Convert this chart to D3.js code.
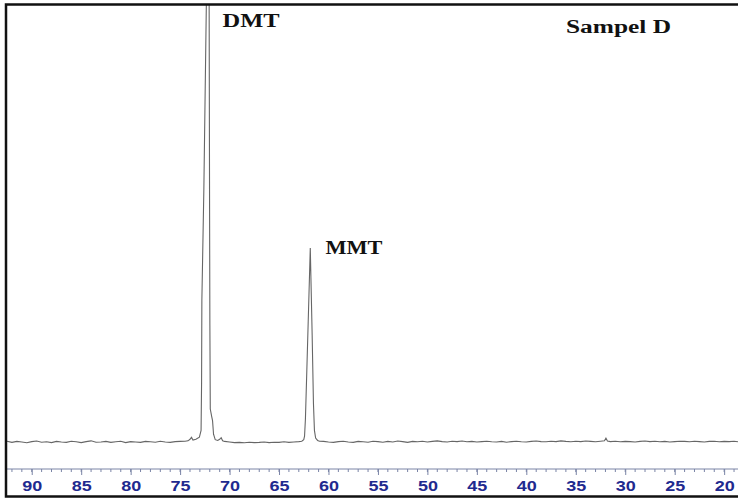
<!DOCTYPE html>
<html>
<head>
<meta charset="utf-8">
<script src="https://d3js.org/d3.v7.min.js"></script>
<style>
  body { margin: 0; background: #fff; }
  svg { display: block; }
</style>
</head>
<body>
<script>
// chemical shift (ppm) of each read point, left part of spectrum
var baseLeftPpm = [92.5, 92.0, 91.5, 91.0, 90.5, 90.0, 89.5, 89.0, 88.5, 88.0, 87.5, 87.0, 86.5, 86.0,
  85.5, 85.0, 84.5, 84.0, 83.5, 83.0, 82.5, 82.0, 81.5, 81.0, 80.5, 80.0, 79.5, 79.0, 78.5, 78.0,
  77.5, 77.0, 76.5, 76.0, 75.5, 75.0, 74.5];
var baseLeftInt = [0.004, -0.002, 0.003, 0.000, -0.004, 0.002, 0.005, -0.001, 0.001, -0.003, 0.003, 0.000,
  -0.002, 0.004, 0.001, -0.003, 0.002, 0.006, -0.001, 0.000, 0.003, -0.002, 0.001, 0.004, -0.003, 0.002,
  0.000, -0.002, 0.003, 0.001, -0.001, 0.004, 0.000, -0.002, 0.002, 0.003, 0.004];

// DMT region with the two small side bumps
var dmtPpm = [74.2, 74.0, 73.85, 73.7, 73.4, 73.05, 72.88, 72.83, 72.8, 72.6, 72.31, 72.07, 72.02, 71.99,
  71.95, 71.8, 71.72, 71.62, 71.45, 71.2, 71.0, 70.85, 70.7, 70.5];
var dmtInt = [0.006, 0.014, 0.024, 0.010, 0.014, 0.025, 0.06, 0.3, 0.73, 1.3, 2.4, 2.4, 1.2, 0.6,
  0.17, 0.13, 0.11, 0.04, 0.012, 0.008, 0.014, 0.022, 0.006, 0.003];

var baseMidPpm = [70.0, 69.5, 69.0, 68.5, 68.0, 67.5, 67.0, 66.5, 66.0, 65.5, 65.0, 64.5, 64.0, 63.5, 63.0];
var baseMidInt = [0.000, -0.003, -0.002, -0.004, -0.001, -0.003, -0.002, 0.000, -0.003, -0.001, -0.002,
  0.001, -0.002, 0.000, 0.002];

// MMT region
var mmtPpm = [62.7, 62.5, 62.42, 62.33, 62.2, 62.05, 61.84, 61.65, 61.52, 61.42, 61.3, 61.1, 60.9];
var mmtInt = [0.004, 0.012, 0.03, 0.12, 0.35, 0.62, 1.0, 0.55, 0.2, 0.06, 0.02, 0.008, 0.004];

var baseRightPpm = [60.5, 60.0, 59.5, 59.0, 58.5, 58.0, 57.5, 57.0, 56.5, 56.0, 55.5, 55.0, 54.5, 54.0,
  53.5, 53.0, 52.5, 52.0, 51.5, 51.0, 50.5, 50.0, 49.5, 49.0, 48.5, 48.0, 47.5, 47.0, 46.5, 46.0,
  45.5, 45.0, 44.5, 44.0, 43.5, 43.0, 42.5, 42.0, 41.5, 41.0, 40.5, 40.0, 39.5, 39.0, 38.5, 38.0,
  37.5, 37.0, 36.5, 36.0, 35.5, 35.0, 34.5, 34.0, 33.5, 33.0, 32.5, 32.1, 31.95, 31.8, 31.5, 31.0,
  30.5, 30.0, 29.5, 29.0, 28.5, 28.0, 27.5, 27.0, 26.5, 26.0, 25.5, 25.0, 24.5, 24.0, 23.5, 23.0,
  22.5, 22.0, 21.5, 21.0, 20.5, 20.0, 19.5, 19.0, 18.6];
var baseRightInt = [0.003, 0.000, -0.002, 0.002, 0.004, 0.000, -0.002, 0.003, 0.001, -0.001, 0.004, 0.002,
  -0.001, 0.003, 0.000, 0.005, 0.002, -0.002, 0.003, 0.001, 0.004, 0.000, 0.003, 0.006, 0.002, 0.000,
  0.004, 0.002, 0.005, 0.001, 0.003, 0.000, 0.002, 0.004, 0.001, 0.000, 0.003, -0.001, 0.002, 0.004,
  0.001, 0.000, 0.003, 0.005, 0.002, 0.001, 0.004, 0.002, 0.006, 0.003, 0.001, 0.004, 0.002, 0.005,
  0.003, 0.001, 0.004, 0.006, 0.02, 0.005, 0.002, 0.004, 0.001, 0.003, 0.002, 0.000, 0.003, 0.005,
  0.002, 0.004, 0.001, 0.003, 0.000, 0.002, 0.004, 0.003, 0.001, 0.004, 0.002, 0.000, 0.003, 0.004,
  0.001, 0.003, 0.002, 0.004, 0.001];

var tickValues = [90, 85, 80, 75, 70, 65, 60, 55, 50, 45, 40, 35, 30, 25, 20];
var minorTicks = d3.range(92, 18, -1);

var peakNames = ["DMT", "MMT"];
var peakLabelPpm = [70.7, 60.3];
var peakLabelInt = [2.14, 0.97];
var sampleName = "Sampel D";

var width = 738, height = 500;

var ppm = [].concat(baseLeftPpm, dmtPpm, baseMidPpm, mmtPpm, baseRightPpm);
var inten = [].concat(baseLeftInt, dmtInt, baseMidInt, mmtInt, baseRightInt);
var spectrum = ppm.map(function (p, i) { return { ppm: p, v: inten[i] }; });

var x = d3.scaleLinear().domain([92.5, 18.6]).range([7, 738]);
var y = d3.scaleLinear().domain([0, 1]).range([442, 248]);

var svg = d3.select("body").append("svg")
  .attr("width", width)
  .attr("height", height);

svg.append("rect")
  .attr("width", width).attr("height", height)
  .attr("fill", "#fff");

svg.append("clipPath").attr("id", "plotclip")
  .append("rect")
  .attr("x", 6).attr("y", 5)
  .attr("width", width).attr("height", 490);

var line = d3.line()
  .x(function (d) { return x(d.ppm); })
  .y(function (d) { return y(d.v); });

svg.append("path")
  .datum(spectrum)
  .attr("clip-path", "url(#plotclip)")
  .attr("fill", "none")
  .attr("stroke", "#666")
  .attr("stroke-width", 1.1)
  .attr("d", line);

// axis
var axisY = 469;
var axis = d3.axisBottom(x)
  .tickValues(tickValues)
  .tickSize(6)
  .tickFormat(d3.format("d"));

var gAxis = svg.append("g")
  .attr("transform", "translate(0," + axisY + ")");

gAxis.selectAll(".minor")
  .data(minorTicks)
  .enter().append("line")
  .attr("class", "minor")
  .attr("x1", function (d) { return x(d); })
  .attr("x2", function (d) { return x(d); })
  .attr("y1", 0).attr("y2", 3)
  .attr("stroke", "#7a84a6");

gAxis.call(axis);
gAxis.select(".domain")
  .attr("d", "M" + 7 + ",0H" + width)
  .attr("stroke", "#7a84a6");
gAxis.selectAll(".tick line").attr("stroke", "#7a84a6");
gAxis.selectAll(".tick text")
  .attr("y", 12)
  .attr("dy", "0.71em")
  .attr("fill", "#1f2a8f")
  .attr("font-family", "Liberation Sans, Arial, sans-serif")
  .attr("font-weight", "bold")
  .attr("font-size", 14)
  .attr("textLength", 20)
  .attr("lengthAdjust", "spacingAndGlyphs");

// peak labels
svg.selectAll(".peak")
  .data(peakNames)
  .enter().append("text")
  .attr("class", "peak")
  .attr("x", function (d, i) { return x(peakLabelPpm[i]); })
  .attr("y", function (d, i) { return y(peakLabelInt[i]); })
  .attr("font-family", "Liberation Serif, Times New Roman, serif")
  .attr("font-weight", "bold")
  .attr("font-size", 19)
  .attr("textLength", 57)
  .attr("lengthAdjust", "spacingAndGlyphs")
  .attr("fill", "#111")
  .text(function (d) { return d; });

svg.append("text")
  .attr("x", 566)
  .attr("y", 33)
  .attr("font-family", "Liberation Serif, Times New Roman, serif")
  .attr("font-weight", "bold")
  .attr("font-size", 18)
  .attr("textLength", 105)
  .attr("lengthAdjust", "spacingAndGlyphs")
  .attr("fill", "#111")
  .text(sampleName);

// frame
svg.append("rect")
  .attr("x", 6).attr("y", 4.5)
  .attr("width", width + 10).attr("height", 492)
  .attr("fill", "none")
  .attr("stroke", "#111")
  .attr("stroke-width", 2.5);
</script>
</body>
</html>
